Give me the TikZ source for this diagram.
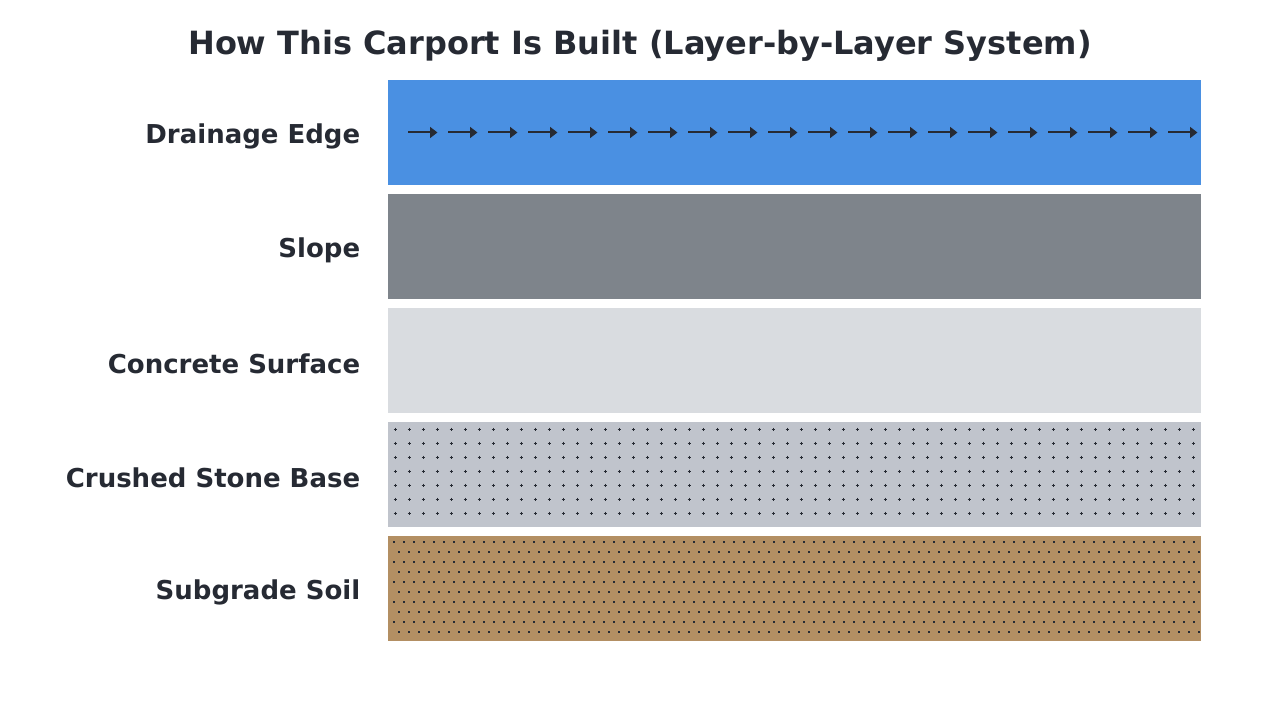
\documentclass[tikz,border=0pt]{standalone}
\usepackage{fontspec}
\setmainfont{DejaVu Sans}
\usetikzlibrary{arrows.meta}
\definecolor{ink}{HTML}{262A33}
\definecolor{cblue}{HTML}{4A90E2}
\definecolor{cslope}{HTML}{7E848B}
\definecolor{cconc}{HTML}{D9DCE0}
\definecolor{cstone}{HTML}{C0C4CC}
\definecolor{csoil}{HTML}{B38F63}
\tikzset{
  layer/.style={rectangle, inner sep=0pt, outer sep=0pt, minimum width=609.75pt, minimum height=78.75pt, draw=none},
  lab/.style={anchor=east, inner sep=0pt, font=\fontsize{19.5}{23}\selectfont\bfseries, text=ink},
  flowarrow/.style={draw=ink, line width=1.5pt, -{Triangle[length=5.5pt,width=8pt]}},
  plusmark/.style={draw=ink, line width=0.9pt},
}
\begin{document}
\begin{tikzpicture}[x=0.75pt,y=-0.75pt]
\useasboundingbox (0,0) rectangle (1280,720);
\node[font=\fontsize{24}{28}\selectfont\bfseries, text=ink] (title) at (640,46) {How This Carport Is Built (Layer-by-Layer System)};
\node[layer, fill=cblue] (drain) at (794.5,132.5) {};
\node[layer, fill=cslope] (slope) at (794.5,246.5) {};
\node[layer, fill=cconc] (conc) at (794.5,360.5) {};
\node[layer, fill=cstone] (stone) at (794.5,474.5) {};
\node[layer, fill=csoil] (soil) at (794.5,588.5) {};
% labels
\node[lab] (ldrain) at (360.5,136) {Drainage Edge};
\node[lab] (lslope) at (360.5,250) {Slope};
\node[lab] (lconc) at (360.5,364) {Concrete Surface};
\node[lab] (lstone) at (360.5,478) {Crushed Stone Base};
\node[lab] (lsoil) at (360.5,592) {Subgrade Soil};
% drainage arrows
\foreach \i in {0,...,19} {
  \draw[flowarrow] ({408+40*\i},132.5) -- ({437.5+40*\i},132.5);
}
% crushed stone pluses
\foreach \r in {0,...,6} {
  \foreach \c in {0,...,57} {
    \draw[plusmark] ({395.3+14*\c-1.8},{429.3+14*\r}) -- ({395.3+14*\c+1.8},{429.3+14*\r});
    \draw[plusmark] ({395.3+14*\c},{429.3+14*\r-1.8}) -- ({395.3+14*\c},{429.3+14*\r+1.8});
  }
}
% soil dots
\foreach \r in {0,...,9} {
  \pgfmathsetmacro{\off}{mod(\r,2)*5}
  \foreach \c in {0,...,80} {
    \fill[ink] ({393.7+\off+10*\c-1},{542+10*\r-1}) rectangle ++(2,2);
  }
}
\end{tikzpicture}
\end{document}
